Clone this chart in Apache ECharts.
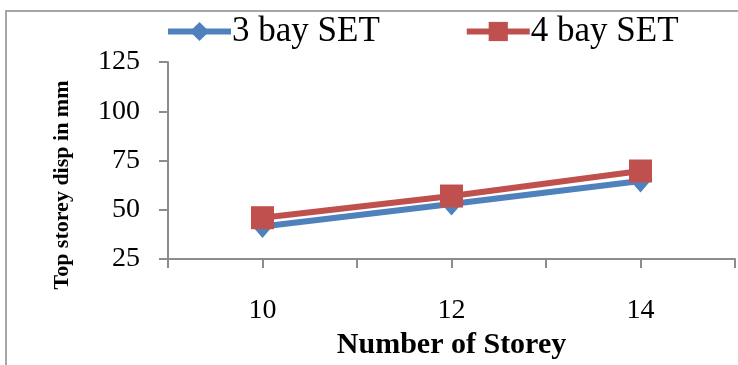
<!DOCTYPE html>
<html>
<head>
<meta charset="utf-8">
<script src="https://cdn.jsdelivr.net/npm/echarts@6/dist/echarts.min.js"></script>
<style>
  html, body { margin: 0; padding: 0; background: #fff; }
  #chart { width: 738px; height: 365px; }
</style>
</head>
<body>
<div id="chart"></div>
<script>
// Number of storeys and top storey displacement (mm) for each frame type
const storeys = [10, 12, 14];
const bay3Set = [41.5, 53, 64.6];
const bay4Set = [46, 57, 69.7];
const yTicks = [25, 50, 75, 100, 125];
const xLabelled = [10, 12, 14];

const serif = '"Liberation Serif", "Times New Roman", serif';
const axisGray = '#8c8c8c';
const blue = '#4F81BD';
const red = '#C0504D';

const chart = echarts.init(document.getElementById('chart'));

chart.setOption({
  backgroundColor: '#fff',
  animation: false,
  graphic: [
    {
      type: 'rect',
      shape: { x: 6, y: 11, width: 800, height: 400 },
      style: { fill: 'none', stroke: '#a6a6a6', lineWidth: 2 },
      silent: true
    },
    {
      type: 'text',
      x: 62,
      y: 185,
      rotation: Math.PI / 2,
      style: {
        text: 'Top storey disp in mm',
        font: 'bold 22px ' + serif,
        fill: '#000',
        align: 'center',
        verticalAlign: 'middle'
      }
    }
  ],
  legend: {
    top: 9,
    left: 160,
    itemWidth: 63,
    itemHeight: 24,
    itemGap: 84,
    textStyle: { fontFamily: serif, fontSize: 35, color: '#000', padding: [0, 0, 0, -4] },
    data: [
      { name: '3 bay SET', lineStyle: { width: 6, color: blue } },
      { name: '4 bay SET', lineStyle: { width: 6, color: red } }
    ]
  },
  grid: { left: 168, right: 3, top: 62, bottom: 93, containLabel: false },
  xAxis: {
    type: 'value',
    min: 9,
    max: 15,
    interval: 1,
    name: 'Number of Storey',
    nameLocation: 'middle',
    nameGap: 64,
    nameTextStyle: { fontFamily: serif, fontSize: 30, fontWeight: 'bold', color: '#000' },
    axisLine: { show: true, onZero: false, lineStyle: { color: axisGray, width: 2 } },
    axisTick: { show: true, length: 9, lineStyle: { color: axisGray, width: 2 } },
    axisLabel: {
      margin: 38,
      fontFamily: serif,
      fontSize: 28,
      color: '#000',
      formatter: v => (xLabelled.indexOf(v) >= 0 ? String(v) : '')
    },
    splitLine: { show: false }
  },
  yAxis: {
    type: 'value',
    min: yTicks[0],
    max: yTicks[yTicks.length - 1],
    interval: 25,
    axisLine: { show: true, lineStyle: { color: axisGray, width: 2 } },
    axisTick: { show: true, length: 9, lineStyle: { color: axisGray, width: 2 } },
    axisLabel: { margin: 28, fontFamily: serif, fontSize: 28, color: '#000' },
    splitLine: { show: false }
  },
  series: [
    {
      name: '3 bay SET',
      type: 'line',
      data: storeys.map((s, i) => [s, bay3Set[i]]),
      symbol: 'diamond',
      symbolSize: [20, 23],
      lineStyle: { color: blue, width: 6 },
      itemStyle: { color: blue },
      z: 2
    },
    {
      name: '4 bay SET',
      type: 'line',
      data: storeys.map((s, i) => [s, bay4Set[i]]),
      symbol: 'rect',
      symbolSize: 23,
      lineStyle: { color: red, width: 6 },
      itemStyle: { color: red },
      z: 3
    }
  ]
});
</script>
</body>
</html>
